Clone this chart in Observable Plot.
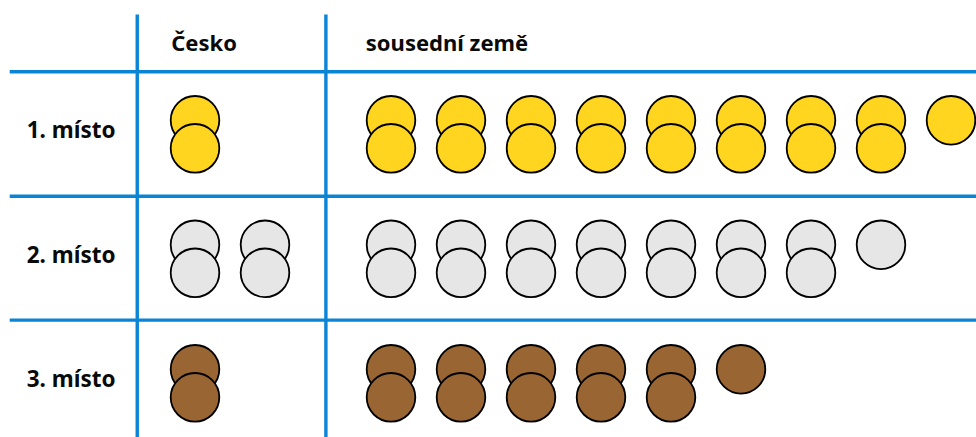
<!DOCTYPE html>
<html><head><meta charset="utf-8">
<style>html,body{margin:0;padding:0;background:#fff}svg{display:block}</style>
<script src="https://cdn.jsdelivr.net/npm/d3@7"></script>
<script src="https://cdn.jsdelivr.net/npm/@observablehq/plot@0.6"></script>
</head><body><script>
const ranks = ["1. místo", "2. místo", "3. místo"];
const groups = ["Česko", "sousední země"];
const ceskoCounts = [2, 4, 2];
const sousedniCounts = [17, 15, 11];
const colors = ["#FFD520", "#E6E6E6", "#996633"];

const groupStart = [0, 2.8];
const layerStep = 0.225;
const dots = [];
ranks.forEach((rank, r) => {
  [ceskoCounts, sousedniCounts].forEach((counts, g) => {
    for (let i = 0; i < counts[r]; i++) {
      dots.push({
        x: groupStart[g] + Math.floor(i / 2),
        y: r + (i % 2) * layerStep,
        fill: colors[r],
        layer: i % 2
      });
    }
  });
});

const hRules = [-0.39, 0.61, 1.605];
const vRules = [-0.825, 1.87];
const font = "'Noto Sans', sans-serif";
const dotStyle = {x: "x", y: "y", r: 24.3, fill: "fill", stroke: "#000", strokeWidth: 1.8};

const chart = Plot.plot({
  width: 976, height: 437,
  margin: 0,
  style: {background: "#fff", fontFamily: font},
  x: {domain: [0, 1], range: [194.5, 264.5], axis: null},
  y: {domain: [0, 1], range: [119.8, 244.3], axis: null},
  marks: [
    Plot.ruleY(hRules, {y: d => d, x1: -2.64, x2: 11.2, stroke: "#0A85D5", strokeWidth: 3.4}),
    Plot.ruleX(vRules, {x: d => d, y1: -0.845, y2: 2.55, stroke: "#0A85D5", strokeWidth: 3.4}),
    Plot.dot(dots.filter(d => d.layer === 0), dotStyle),
    Plot.dot(dots.filter(d => d.layer === 1), dotStyle),
    Plot.text(ranks, {x: -1.77, y: (d, i) => i + 0.085, text: d => d, fontSize: 22.5, fontWeight: 700, fill: "#0a0a0a", textAnchor: "middle"}),
    Plot.text(groups, {x: (d, i) => [-0.34, 2.44][i], y: -0.61, text: d => d, fontSize: 22, fontWeight: 700, fill: "#0a0a0a", textAnchor: "start"})
  ]
});
document.body.appendChild(chart);
</script></body></html>
